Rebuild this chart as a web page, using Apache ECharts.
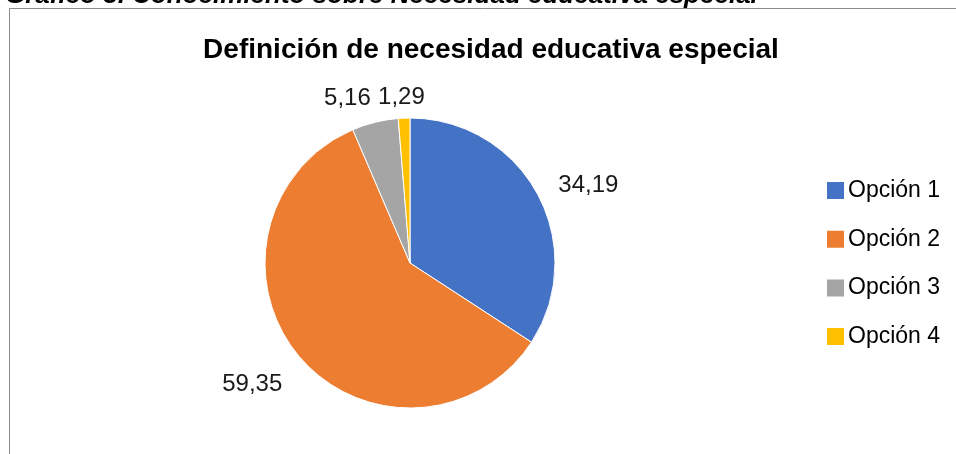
<!DOCTYPE html>
<html>
<head>
<meta charset="utf-8">
<script src="https://cdn.jsdelivr.net/npm/echarts@6/dist/echarts.min.js"></script>
<style>
html,body{margin:0;padding:0;background:#fff;}
#chart{width:956px;height:454px;}
</style>
</head>
<body>
<div id="chart"></div>
<script>
const categories = ['Opción 1', 'Opción 2', 'Opción 3', 'Opción 4'];
const values = [34.19, 59.35, 5.16, 1.29];
const colors = ['#4472C4', '#ED7D31', '#A5A5A5', '#FFC000'];
const titleText = 'Definición de necesidad educativa especial';
const captionText = 'Gráfico 3. Conocimiento sobre Necesidad educativa especial';

const labelTweaks = {
  1: { dx: 2, dy: 16 },
  2: { dx: 5, dy: -6 },
  3: { align: 'center', dx: 3, dy: -3 }
};

const chart = echarts.init(document.getElementById('chart'), null, { renderer: 'canvas' });
chart.setOption({
  animation: false,
  backgroundColor: '#fff',
  color: colors,
  graphic: [
    {
      type: 'rect',
      shape: { x: 9.5, y: 8.5, width: 2000, height: 2000 },
      style: { fill: 'none', stroke: '#8c8c8c', lineWidth: 1 },
      silent: true
    },
    {
      type: 'text',
      x: 5, y: 9,
      style: {
        text: captionText,
        font: 'italic bold 26px "Liberation Sans", Arial, sans-serif',
        fill: '#000',
        verticalAlign: 'bottom'
      },
      silent: true
    }
  ],
  title: {
    text: titleText,
    left: 486,
    textAlign: 'center',
    top: 31,
    textStyle: {
      fontFamily: '"Liberation Sans", Arial, sans-serif',
      fontWeight: 'bold',
      fontSize: 28,
      color: '#000'
    }
  },
  legend: {
    orient: 'vertical',
    left: 820,
    top: 174,
    itemWidth: 19,
    itemHeight: 19,
    itemGap: 25.7,
    icon: 'rect',
    data: categories,
    textStyle: {
      fontFamily: '"Liberation Sans", Arial, sans-serif',
      fontSize: 23,
      lineHeight: 23,
      color: '#000',
      padding: [0, 0, 0, -2]
    }
  },
  series: [{
    type: 'pie',
    center: [410, 263],
    radius: 145,
    startAngle: 90,
    clockwise: true,
    avoidLabelOverlap: false,
    itemStyle: { borderColor: '#fff', borderWidth: 1 },
    label: {
      show: true,
      position: 'outside',
      formatter: p => String(p.value).replace('.', ','),
      fontFamily: '"Liberation Sans", Arial, sans-serif',
      fontSize: 24,
      color: '#1a1a1a'
    },
    labelLine: { show: false, length: 18, length2: 0 },
    labelLayout: function (params) {
      return labelTweaks[params.dataIndex] || {};
    },
    data: categories.map((c, i) => ({ name: c, value: values[i] }))
  }]
});
</script>
</body>
</html>
